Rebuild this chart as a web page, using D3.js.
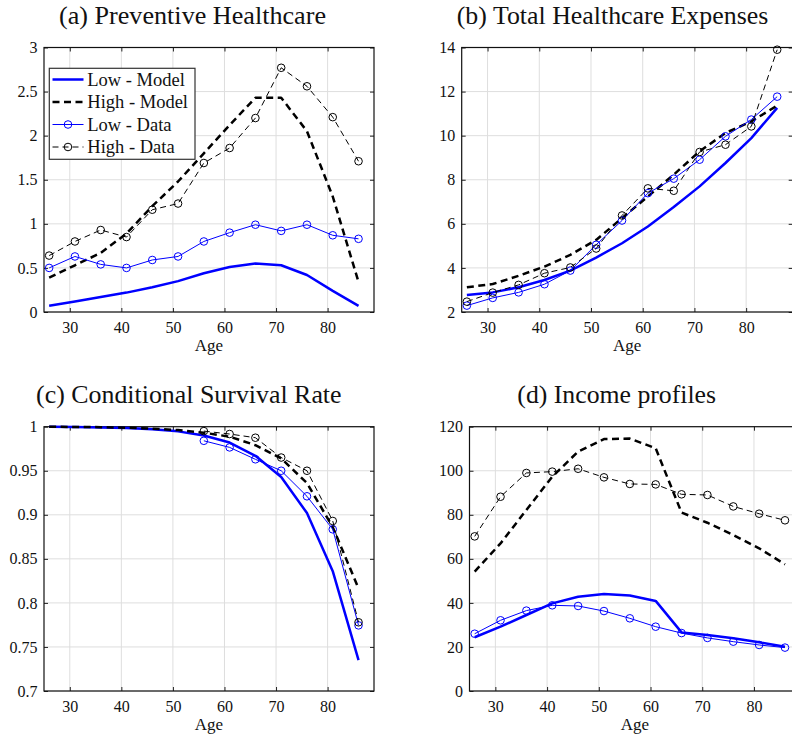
<!DOCTYPE html>
<html>
<head>
<meta charset="utf-8">
<script src="https://cdn.jsdelivr.net/npm/d3@7"></script>
<style>
  html, body { margin: 0; padding: 0; background: #fff; overflow: hidden; }
  svg { display: block; }
  text { font-family: "Liberation Serif", "DejaVu Serif", serif; }
</style>
</head>
<body>
<svg id="chart" width="792" height="738"></svg>
<script>
// Age grid (5-year steps) shared by all four panels
const ages = [26, 31, 36, 41, 46, 51, 56, 61, 66, 71, 76, 81, 86];
// Survival data are only observed from age 56 on
const survivalDataAges = [56, 61, 66, 71, 76, 81, 86];

const xTicks = [30, 40, 50, 60, 70, 80];

// (a) Preventive healthcare
const prevLowModel  = [0.07, 0.12, 0.17, 0.22, 0.28, 0.35, 0.44, 0.51, 0.55, 0.53, 0.42, 0.24, 0.07];
const prevHighModel = [0.39, 0.53, 0.67, 0.89, 1.20, 1.48, 1.80, 2.12, 2.43, 2.43, 2.05, 1.31, 0.34];
const prevLowData   = [0.50, 0.63, 0.54, 0.50, 0.59, 0.63, 0.80, 0.90, 0.99, 0.92, 0.99, 0.87, 0.83];
const prevHighData  = [0.64, 0.80, 0.93, 0.85, 1.16, 1.23, 1.69, 1.86, 2.20, 2.77, 2.56, 2.21, 1.71];
const prevTicks = [0, 0.5, 1, 1.5, 2, 2.5, 3];

// (b) Total healthcare expenses
const totLowModel  = [2.77, 2.89, 3.12, 3.45, 3.88, 4.47, 5.12, 5.88, 6.76, 7.70, 8.76, 9.89, 11.26];
const totHighModel = [3.12, 3.27, 3.64, 4.06, 4.59, 5.27, 6.26, 7.24, 8.23, 9.29, 10.12, 10.65, 11.36];
const totLowData   = [2.29, 2.64, 2.89, 3.26, 3.88, 5.05, 6.15, 7.39, 8.05, 8.91, 9.97, 10.73, 11.77];
const totHighData  = [2.47, 2.88, 3.23, 3.76, 4.02, 4.88, 6.38, 7.61, 7.50, 9.26, 9.59, 10.42, 13.90];
const totTicks = [2, 4, 6, 8, 10, 12, 14];

// (c) Conditional survival rate
const survLowModel  = [1.0, 0.9996, 0.9992, 0.9985, 0.997, 0.9947, 0.990, 0.982, 0.967, 0.943, 0.902, 0.836, 0.735];
const survHighModel = [1.0, 0.9997, 0.9995, 0.9989, 0.9977, 0.9962, 0.9932, 0.9887, 0.979, 0.964, 0.936, 0.886, 0.8165];
const survLowData   = [0.984, 0.9765, 0.963, 0.950, 0.921, 0.8835, 0.7745];
const survHighData  = [0.995, 0.9917, 0.9875, 0.965, 0.950, 0.893, 0.778];
const survTicks = [0.7, 0.75, 0.8, 0.85, 0.9, 0.95, 1];

// (d) Income profiles
const incLowModel  = [24.4, 29.2, 34.5, 39.8, 42.8, 44.0, 43.4, 40.9, 26.6, 25.4, 23.9, 22.1, 20.1];
const incHighModel = [54.2, 67.0, 82.2, 97.3, 108.7, 114.4, 114.6, 110.2, 81.0, 76.4, 70.8, 64.8, 57.5];
const incLowData   = [26.0, 32.1, 36.5, 38.9, 38.6, 36.3, 33.0, 29.2, 26.3, 24.1, 22.4, 20.9, 19.7];
const incHighData  = [70.2, 88.2, 99.0, 99.6, 100.9, 97.0, 94.0, 93.8, 89.3, 89.0, 83.8, 80.5, 77.5];
const incTicks = [0, 20, 40, 60, 80, 100, 120];

const legendLabels = ["Low - Model", "High - Model", "Low - Data", "High - Data"];

const FONT = "'Liberation Serif', 'DejaVu Serif', serif";

// Line styles for the four series
const styles = [
  { color: "#0000ff", width: 2.5, dash: null,    marker: false },
  { color: "#000000", width: 2.5, dash: "7,4.5", marker: false },
  { color: "#0000ff", width: 1,   dash: null,    marker: true  },
  { color: "#000000", width: 1,   dash: "6,4",   marker: true  }
];

const zip = (xs, ys) => xs.map((x, i) => [x, ys[i]]);

const panels = [
  { title: "(a) Preventive Healthcare", titleX: 192.5, titleY: 24, titleW: 267,
    box: [44, 47.5, 374, 312], yDomain: [0, 3], yTicks: prevTicks,
    series: [zip(ages, prevLowModel), zip(ages, prevHighModel), zip(ages, prevLowData), zip(ages, prevHighData)],
    legend: true },
  { title: "(b) Total Healthcare Expenses", titleX: 612.5, titleY: 24, titleW: 311.5,
    box: [461.7, 47.5, 792.7, 312], yDomain: [2, 14], yTicks: totTicks,
    series: [zip(ages, totLowModel), zip(ages, totHighModel), zip(ages, totLowData), zip(ages, totHighData)] },
  { title: "(c) Conditional Survival Rate", titleX: 188.8, titleY: 402.5, titleW: 305.5,
    box: [44, 426.7, 374, 691], yDomain: [0.7, 1], yTicks: survTicks,
    series: [zip(ages, survLowModel), zip(ages, survHighModel), zip(survivalDataAges, survLowData), zip(survivalDataAges, survHighData)] },
  { title: "(d) Income profiles", titleX: 616.7, titleY: 403.3, titleW: 198.7,
    box: [469.5, 426.7, 800.5, 691], yDomain: [0, 120], yTicks: incTicks,
    series: [zip(ages, incLowModel), zip(ages, incHighModel), zip(ages, incLowData), zip(ages, incHighData)] }
];

const svg = d3.select("#chart");
const tickLen = 4;

panels.forEach((p, pi) => {
  const [x0, y0, x1, y1] = p.box;
  const x = d3.scaleLinear().domain([25, 89]).range([x0, x1]);
  const y = d3.scaleLinear().domain(p.yDomain).range([y1, y0]);
  const g = svg.append("g");

  // title
  g.append("text")
    .attr("x", p.titleX).attr("y", p.titleY)
    .attr("text-anchor", "middle")
    .attr("font-family", FONT)
    .attr("font-size", 25.5)
    .attr("fill", "#111")
    .attr("textLength", p.titleW)
    .attr("lengthAdjust", "spacingAndGlyphs")
    .text(p.title);

  // grid lines
  g.append("g").selectAll("line").data(xTicks).join("line")
    .attr("x1", d => x(d)).attr("x2", d => x(d))
    .attr("y1", y0).attr("y2", y1)
    .attr("stroke", "#dedede").attr("stroke-width", 1);
  g.append("g").selectAll("line").data(p.yTicks).join("line")
    .attr("x1", x0).attr("x2", x1)
    .attr("y1", d => y(d)).attr("y2", d => y(d))
    .attr("stroke", "#dedede").attr("stroke-width", 1);

  // axes: labels outside, tick marks pointing inward on all four sides
  const bottom = d3.axisBottom(x).tickValues(xTicks).tickSize(-tickLen).tickPadding(10).tickFormat(d3.format("d"));
  const top = d3.axisTop(x).tickValues(xTicks).tickSize(-tickLen).tickFormat("");
  const left = d3.axisLeft(y).tickValues(p.yTicks).tickSize(-tickLen).tickPadding(6.5).tickFormat(d => String(d));
  const right = d3.axisRight(y).tickValues(p.yTicks).tickSize(-tickLen).tickFormat("");

  const styleAxis = sel => {
    sel.attr("font-family", FONT).attr("font-size", 16);
    sel.select(".domain").remove();
    sel.selectAll(".tick line").attr("stroke", "#222").attr("stroke-width", 1);
    sel.selectAll(".tick text").attr("fill", "#111");
  };
  g.append("g").attr("transform", `translate(0,${y1})`).call(bottom).call(styleAxis);
  g.append("g").attr("transform", `translate(0,${y0})`).call(top).call(styleAxis);
  g.append("g").attr("transform", `translate(${x0},0)`).call(left).call(styleAxis);
  g.append("g").attr("transform", `translate(${x1},0)`).call(right).call(styleAxis);

  // axes box
  g.append("rect")
    .attr("x", x0).attr("y", y0).attr("width", x1 - x0).attr("height", y1 - y0)
    .attr("fill", "none").attr("stroke", "#111").attr("stroke-width", 1.2);

  // x-axis title
  g.append("text")
    .attr("x", (x0 + x1) / 2).attr("y", y1 + 39)
    .attr("text-anchor", "middle")
    .attr("font-family", FONT).attr("font-size", 17).attr("fill", "#111")
    .text("Age");

  // series
  const clipId = "clip" + pi;
  svg.append("clipPath").attr("id", clipId).append("rect")
    .attr("x", x0).attr("y", y0 - 6).attr("width", x1 - x0).attr("height", y1 - y0 + 6);
  const line = d3.line().x(d => x(d[0])).y(d => y(d[1]));
  p.series.forEach((data, si) => {
    const s = styles[si];
    g.append("path")
      .datum(data)
      .attr("d", line)
      .attr("fill", "none")
      .attr("stroke", s.color)
      .attr("stroke-width", s.width)
      .attr("stroke-dasharray", s.dash)
      .attr("stroke-linejoin", "round")
      .attr("clip-path", `url(#${clipId})`);
    if (s.marker) {
      g.append("g").selectAll("circle").data(data).join("circle")
        .attr("cx", d => x(d[0])).attr("cy", d => y(d[1]))
        .attr("r", 3.8)
        .attr("fill", "none")
        .attr("stroke", s.color)
        .attr("stroke-width", 1);
    }
  });

  // legend
  if (p.legend) {
    const lg = g.append("g");
    lg.append("rect")
      .attr("x", 49.3).attr("y", 68.3).attr("width", 145.7).attr("height", 91)
      .attr("fill", "#fff").attr("stroke", "#333").attr("stroke-width", 1.2);
    legendLabels.forEach((lab, i) => {
      const s = styles[i];
      const cy = 79.5 + i * 22.5;
      lg.append("line")
        .attr("x1", 52.5).attr("x2", 83.5).attr("y1", cy).attr("y2", cy)
        .attr("stroke", s.color).attr("stroke-width", s.width)
        .attr("stroke-dasharray", s.dash);
      if (s.marker) {
        lg.append("circle").attr("cx", 68).attr("cy", cy).attr("r", 3.8)
          .attr("fill", "none").attr("stroke", s.color).attr("stroke-width", 1);
      }
      lg.append("text")
        .attr("x", 87.3).attr("y", cy + 6)
        .attr("font-family", FONT).attr("font-size", 18.5).attr("fill", "#111")
        .text(lab);
    });
  }
});
</script>
</body>
</html>
